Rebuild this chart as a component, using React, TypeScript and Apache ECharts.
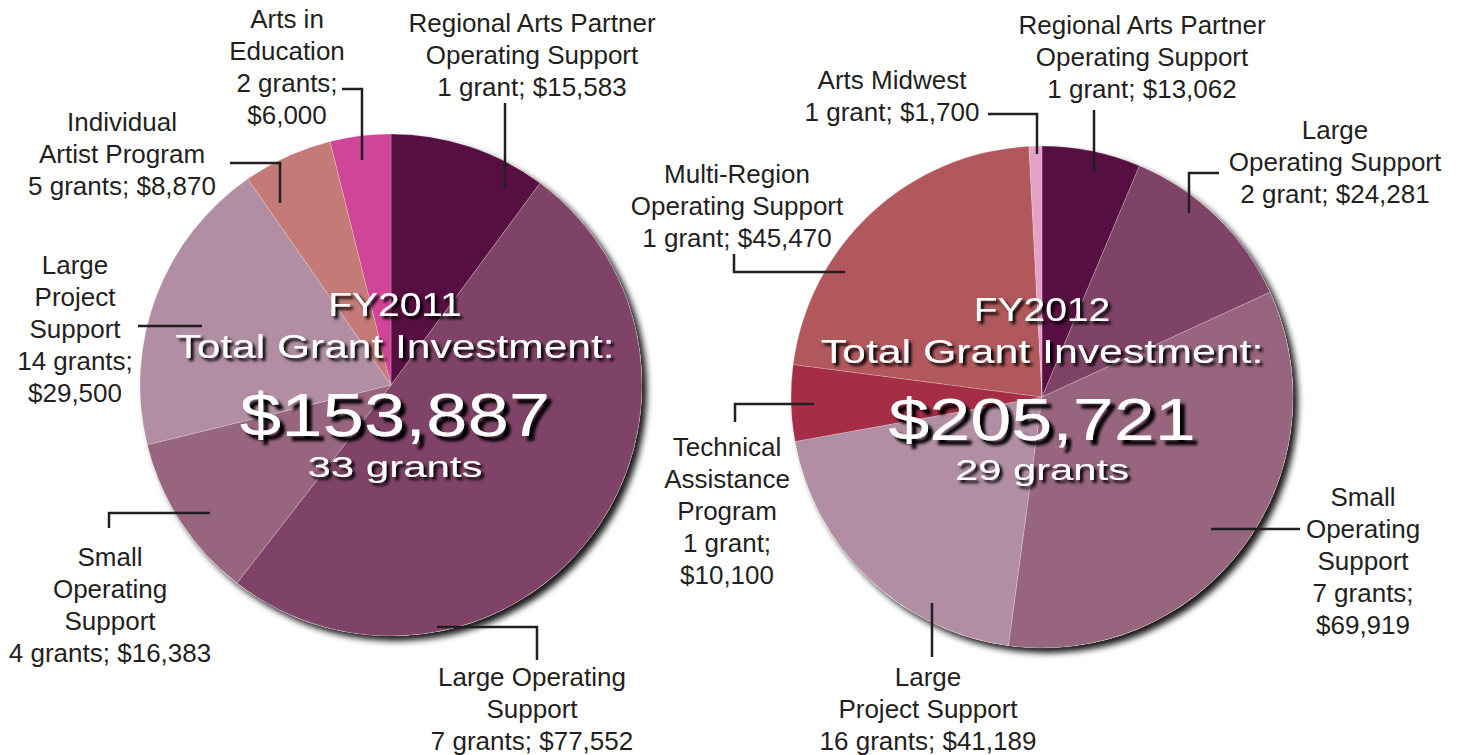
import React, { useEffect, useRef } from "react";
import * as echarts from "echarts";

// ---------- FY2011 data ----------
const fy11Names = [
  "Regional Arts Partner\nOperating Support",
  "Large Operating\nSupport",
  "Small\nOperating\nSupport",
  "Large\nProject\nSupport",
  "Individual\nArtist Program",
  "Arts in\nEducation",
];
const fy11Values = [15583, 77552, 16383, 29500, 8870, 6000];
const fy11Grants = [1, 7, 4, 14, 5, 2];
const fy11GrantWord = ["grant", "grants", "grants", "grants", "grants", "grants"];
const fy11Sep = [" ", " ", " ", "\n", " ", "\n"];
const fy11Total = 153887;
const fy11Year = "FY2011";

// ---------- FY2012 data ----------
const fy12Names = [
  "Regional Arts Partner\nOperating Support",
  "Large\nOperating Support",
  "Small\nOperating\nSupport",
  "Large\nProject Support",
  "Technical\nAssistance\nProgram",
  "Multi-Region\nOperating Support",
  "Arts Midwest",
];
const fy12Values = [13062, 24281, 69919, 41189, 10100, 45470, 1700];
const fy12Grants = [1, 2, 7, 16, 1, 1, 1];
const fy12GrantWord = ["grant", "grant", "grants", "grants", "grant", "grant", "grant"];
const fy12Sep = [" ", " ", "\n", " ", "\n", " ", " "];
const fy12Total = 205721;
const fy12Year = "FY2012";

// ---------- styles / layout ----------
const fy11Colors = ["#570f42", "#7f4367", "#98657f", "#b18ea3", "#c47a77", "#d14598"];
const fy12Colors = ["#570f42", "#7f4367", "#98657f", "#b18ea3", "#a52e46", "#b0585b", "#e2a2c8"];

const fy11LabelPos = [
  [532, 7],
  [532, 661],
  [110, 541],
  [75, 249],
  [122, 106],
  [287, 3],
];
const fy12LabelPos = [
  [1142, 9],
  [1335, 114],
  [1363, 481],
  [928, 661],
  [727, 431],
  [737, 158],
  [892, 64],
];

const leaders = [
  [[505, 103], [505, 188]],
  [[437, 627], [537, 627], [537, 660]],
  [[109, 528], [109, 513], [210, 513]],
  [[138, 326], [202, 326]],
  [[230, 163], [280, 163], [280, 203]],
  [[342, 89], [362, 89], [362, 160]],
  [[1094, 110], [1094, 172]],
  [[1219, 173], [1189, 173], [1189, 213]],
  [[1211, 529], [1300, 529]],
  [[932, 603], [932, 657]],
  [[735, 422], [735, 404], [814, 404]],
  [[734, 254], [734, 272], [845, 272]],
  [[988, 114], [1037, 114], [1037, 154]],
];

const FONT = '"Liberation Sans", Arial, Helvetica, sans-serif';
const fmt = (v: number) => "$" + v.toLocaleString("en-US");
const sum = (a: number[]) => a.reduce((s, x) => s + x, 0);

function makePie(
  center: number[],
  names: string[],
  values: number[],
  grants: number[],
  words: string[],
  seps: string[],
  colors: string[],
  pos: number[][]
) {
  return [
    {
      type: "pie",
      center,
      radius: 251,
      silent: true,
      z: 1,
      label: { show: false },
      labelLine: { show: false },
      data: [
        {
          value: 1,
          itemStyle: {
            color: "#ffffff",
            shadowBlur: 6,
            shadowColor: "rgba(0,0,0,0.9)",
            shadowOffsetX: 5,
            shadowOffsetY: 5,
          },
        },
      ],
    },
    {
      type: "pie",
      center,
      radius: 251,
      startAngle: 90,
      clockwise: true,
      silent: true,
      z: 2,
      itemStyle: { borderColor: "rgba(255,255,255,0.35)", borderWidth: 0.6 },
      label: {
        show: true,
        position: "inside",
        color: "#231f20",
        fontFamily: FONT,
        fontSize: 26,
        lineHeight: 32,
        align: "center",
        formatter: (p: any) => {
          const i = p.dataIndex;
          return `${names[i]}\n${grants[i]} ${words[i]};${seps[i]}${fmt(values[i])}`;
        },
      },
      labelLine: { show: false },
      labelLayout: (p: any) => ({
        x: pos[p.dataIndex][0],
        y: pos[p.dataIndex][1],
        align: "center",
        verticalAlign: "top",
      }),
      data: values.map((v, i) => ({
        value: v,
        name: names[i].replace(/\n/g, " "),
        itemStyle: { color: colors[i] },
      })),
    },
  ];
}

function centerTexts(cx: number, lines: { text: string; y: number; size: number; sx: number; off: number }[]) {
  return lines.map((l) => ({
    type: "text",
    x: cx,
    y: l.y,
    scaleX: l.sx,
    z: 20,
    silent: true,
    style: {
      text: l.text,
      fill: "#ffffff",
      fontFamily: FONT,
      fontSize: l.size,
      textAlign: "center",
      textVerticalAlign: "middle",
      align: "center",
      verticalAlign: "middle",
      textShadowColor: "#000000",
      textShadowBlur: 3,
      textShadowOffsetX: l.off,
      textShadowOffsetY: l.off,
    },
  }));
}

export default function App() {
  const ref = useRef<HTMLDivElement>(null);
  useEffect(() => {
    if (!ref.current) return;
    const chart = echarts.init(ref.current, undefined, { renderer: "svg" });
    const option: any = {
      animation: false,
      backgroundColor: "#ffffff",
      series: [
        ...makePie([391, 385], fy11Names, fy11Values, fy11Grants, fy11GrantWord, fy11Sep, fy11Colors, fy11LabelPos),
        ...makePie([1042, 397], fy12Names, fy12Values, fy12Grants, fy12GrantWord, fy12Sep, fy12Colors, fy12LabelPos),
      ],
      graphic: [
        ...leaders.map((pts) => ({
          type: "polyline",
          z: 15,
          silent: true,
          shape: { points: pts },
          style: { stroke: "#231f20", lineWidth: 2.5, fill: null },
        })),
        ...centerTexts(395, [
          { text: fy11Year, y: 305, size: 33, sx: 1.18, off: 3 },
          { text: "Total Grant Investment:", y: 346, size: 34, sx: 1.25, off: 3 },
          { text: fmt(fy11Total), y: 414, size: 61, sx: 1.22, off: 5 },
          { text: `${sum(fy11Grants)} grants`, y: 467, size: 30, sx: 1.4, off: 3 },
        ]),
        ...centerTexts(1042, [
          { text: fy12Year, y: 310, size: 33, sx: 1.18, off: 3 },
          { text: "Total Grant Investment:", y: 351, size: 34, sx: 1.26, off: 3 },
          { text: fmt(fy12Total), y: 420, size: 59, sx: 1.25, off: 5 },
          { text: `${sum(fy12Grants)} grants`, y: 470, size: 29, sx: 1.44, off: 3 },
        ]),
      ],
    };
    chart.setOption(option);
    return () => chart.dispose();
  }, []);
  return (
    <div
      ref={ref}
      style={{ position: "fixed", left: 0, top: 0, width: 1461, height: 755 }}
    />
  );
}
